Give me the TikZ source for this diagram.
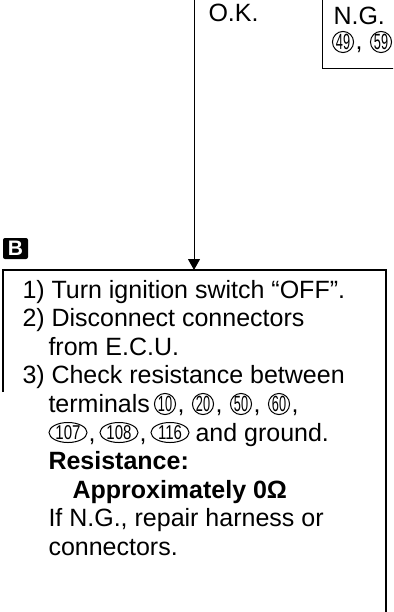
\documentclass[tikz,border=0pt]{standalone}
\usepackage{fontspec}
\setmainfont{Liberation Sans}
\usetikzlibrary{arrows.meta,shapes.geometric}
\begin{document}
\begin{tikzpicture}[x=1pt,y=-1pt,line width=1pt,
  txt/.style={anchor=base west,inner sep=0pt,font=\fontsize{25}{28}\selectfont},
  btxt/.style={txt,font=\fontsize{25}{28}\selectfont\bfseries},
  cn/.style={draw,circle,line width=1pt,inner sep=0pt,minimum size=21pt,font=\fontsize{22}{22}\selectfont},
  en/.style={draw,ellipse,line width=1pt,inner sep=0pt,minimum width=38pt,minimum height=20pt,font=\fontsize{20}{20}\selectfont},
  frame/.style={line width=1.2pt}]
\useasboundingbox (0,0) rectangle (393,612);
\clip (0,0) rectangle (393,612);
% top part
\node[txt] (ok) at (208,22) {O.K.};
\node[draw,frame,anchor=north west,minimum width=100pt,minimum height=70pt,inner sep=0pt] (ngbox) at (322,-2) {};
\node[txt] (ng) at (333,25) {N.G.};
\node[cn] (c49) at (343,42) {\scalebox{0.58}[1]{49}};
\node[txt] (ngc) at (355,50) {,};
\node[cn] (c59) at (381,42) {\scalebox{0.58}[1]{59}};
% label B
\node[fill=black,text=white,rounded corners=2pt,minimum width=25pt,minimum height=21pt,inner sep=0pt,font=\fontsize{21}{21}\selectfont\bfseries] (blabel) at (15.5,248.5) {B};
% main box
\coordinate (bnw) at (3,270);
\coordinate (bne) at (386,270);
\coordinate (bse) at (386,620);
\coordinate (bw) at (3,392);
\draw[frame] (bw) -- (bnw) -- (bne) -- (bse);
% arrow
\coordinate (src) at (194,-2);
\draw[-{Triangle[length=11pt,width=12pt]}] (src) -- (src |- bnw);
% text
\node[txt] (n1) at (22,298) {1)};
\node[txt] (t1) at (51,298) {Turn ignition switch “OFF”.};
\node[txt] (n2) at (22,326.6) {2)};
\node[txt] (t2) at (51,326.6) {Disconnect connectors};
\node[txt] (t3) at (48,355.2) {from E.C.U.};
\node[txt] (n4) at (22,383.8) {3)};
\node[txt] (t4) at (51,383.8) {Check resistance between};
% terminals line
\node[txt] (t5) at (48,412.4) {terminals};
\node[cn] (c10) at (165,404) {\scalebox{0.58}[1]{10}};
\node[txt] (k1) at (177,412.4) {,};
\node[cn] (c20) at (203,404) {\scalebox{0.58}[1]{20}};
\node[txt] (k2) at (215,412.4) {,};
\node[cn] (c50) at (241,404) {\scalebox{0.58}[1]{50}};
\node[txt] (k3) at (253,412.4) {,};
\node[cn] (c60) at (279,404) {\scalebox{0.58}[1]{60}};
\node[txt] (k4) at (291,412.4) {,};
% ellipse line
\node[en] (e107) at (68,432.5) {\scalebox{0.75}[1]{107}};
\node[txt] (k5) at (88,441) {,};
\node[en] (e108) at (119,432.5) {\scalebox{0.75}[1]{108}};
\node[txt] (k6) at (139,441) {,};
\node[en] (e116) at (170,432.5) {\scalebox{0.75}[1]{116}};
\node[txt] (t6) at (195,441) {and ground.};
\node[btxt] (t7) at (48,469.6) {Resistance:};
\node[btxt] (t8) at (72,498.2) {Approximately 0Ω};
\node[txt] (t9) at (48,526.8) {If N.G., repair harness or};
\node[txt] (t10) at (48,555.4) {connectors.};
\end{tikzpicture}
\end{document}
